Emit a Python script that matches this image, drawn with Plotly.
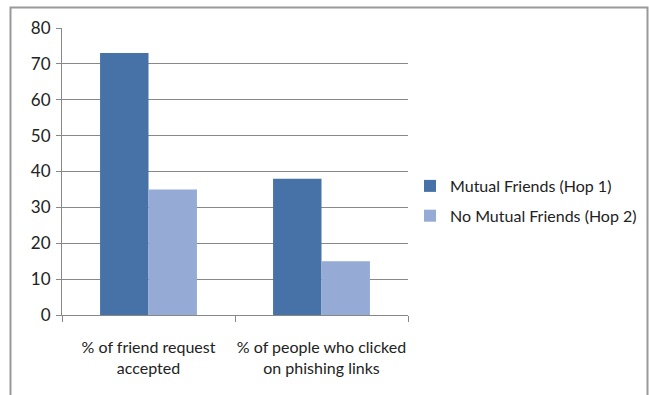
import plotly.graph_objects as go

categories = ["% of friend request<br>accepted", "% of people who clicked<br>on phishing links"]
mutual = [73, 38]
no_mutual = [35, 15]
series_names = ["Mutual Friends (Hop 1)", "No Mutual Friends (Hop 2)"]

W, H = 649, 395
L, R, T, B = 62, 241, 28, 80
pw, ph = W - L - R, H - T - B

def px_x(x):
    return (x - L) / pw

def px_y(y):
    return (H - B - y) / ph

fig = go.Figure()
fig.add_trace(go.Bar(x=categories, y=mutual, name=series_names[0], legendgroup="a",
                     marker_color="#4672A8", marker_line_width=0))
fig.add_trace(go.Bar(x=categories, y=no_mutual, name=series_names[1], legendgroup="b",
                     marker_color="#95ABD5", marker_line_width=0))

font = dict(family="Lato, Carlito, sans-serif", size=16, color="#222")

fig.update_layout(
    width=W, height=H,
    margin=dict(l=L, r=R, t=T, b=B, autoexpand=False),
    paper_bgcolor="white", plot_bgcolor="white",
    barmode="group", bargap=0.44, bargroupgap=0,
    font=font,
    showlegend=True,
    legend=dict(x=px_x(410), y=px_y(169), xanchor="left", yanchor="top",
                font=dict(size=16, color="#222"), tracegroupgap=6,
                traceorder="grouped", itemwidth=30, bgcolor="rgba(0,0,0,0)"),
    xaxis=dict(showline=True, linecolor="#888", linewidth=1, ticks="outside",
               tickson="boundaries", ticklen=6, tickcolor="#888",
               ticklabelstandoff=18, tickangle=0, automargin=False,
               showgrid=False, tickfont=dict(size=16, color="#222")),
    yaxis=dict(range=[0, 80], dtick=10, showline=True, linecolor="#888", linewidth=1,
               ticks="outside", ticklen=5, tickcolor="#888", ticklabelstandoff=2,
               automargin=False,
               showgrid=True, gridcolor="#888", gridwidth=1, zeroline=False,
               tickfont=dict(size=17, color="#222")),
    shapes=[dict(type="path", xref="paper", yref="paper",
                 path=f"M {px_x(10.5)} {px_y(400)} L {px_x(10.5)} {px_y(7.5)} L {px_x(647.5)} {px_y(7.5)} L {px_x(647.5)} {px_y(400)}",
                 line=dict(color="#999", width=2))],
)

fig.write_html("out.html")
